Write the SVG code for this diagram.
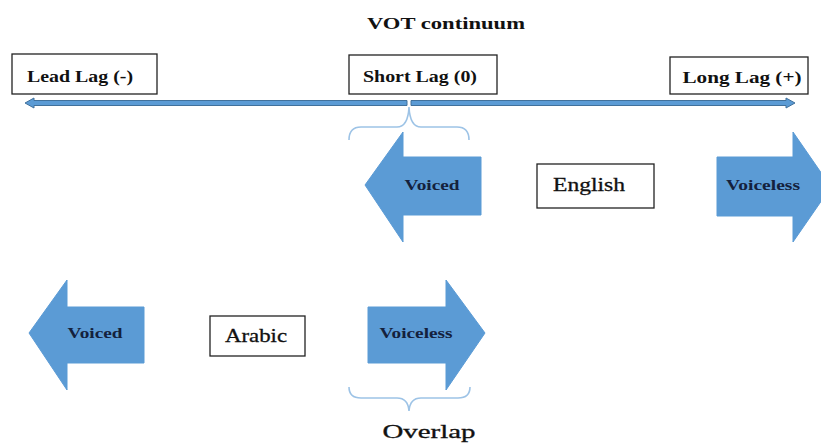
<svg xmlns="http://www.w3.org/2000/svg" width="821" height="443" viewBox="0 0 821 443">
<style>
text{font-family:'Liberation Serif','DejaVu Serif','Times New Roman',serif;}
.t{font-weight:bold;font-size:17px;fill:#111;}
.lbl{font-weight:bold;font-size:16.5px;fill:#111;}
.lang{font-size:19px;fill:#111;stroke:#111;stroke-width:0.3;}
.arw{font-weight:bold;font-size:14px;fill:#14213d;}
.box{fill:#fff;stroke:#222;stroke-width:1.3;}
.blk{fill:#5B9BD5;stroke:#5B9BD5;stroke-width:1;}
.axis{fill:#5B9BD5;stroke:#41719C;stroke-width:1;}
.brace{fill:none;stroke:#9DC3E6;stroke-width:1.6;}
</style>
<rect width="821" height="443" fill="#fff"/>
<text class="t" x="446" y="29" text-anchor="middle" textLength="158" lengthAdjust="spacingAndGlyphs">VOT continuum</text>
<g id="connectors">
<polygon class="axis" points="407,100.5 34,100.5 34,98 25,103 34,108 34,105.5 407,105.5"/>
<polygon class="axis" points="411,100.5 786,100.5 786,98 795,103 786,108 786,105.5 411,105.5"/>
<path class="brace" d="M349,140 Q349,127 361,127 L397,127 Q408,127 409,107 Q410,127 421,127 L457,127 Q469,127 469,140"/>
<path class="brace" d="M349,387 Q349,398 361,398 L397,398 Q408,398 409,411 Q410,398 421,398 L458,398 Q470,398 470,387"/>
</g>
<g id="lead-lag">
<rect class="box" x="12" y="54" width="145" height="40"/>
<text class="lbl" x="80" y="82" text-anchor="middle" textLength="106" lengthAdjust="spacingAndGlyphs">Lead Lag (-)</text>
</g>
<g id="short-lag">
<rect class="box" x="349" y="55" width="148" height="39"/>
<text class="lbl" x="420" y="82" text-anchor="middle" textLength="114" lengthAdjust="spacingAndGlyphs">Short Lag (0)</text>
</g>
<g id="long-lag">
<rect class="box" x="670" y="57" width="138" height="37"/>
<text class="lbl" x="742" y="83" text-anchor="middle" textLength="119" lengthAdjust="spacingAndGlyphs">Long Lag (+)</text>
</g>
<g id="english-voiced">
<polygon class="blk" points="365,185 403,132 403,157 481,157 481,215 403,215 403,242"/>
<text class="arw" x="432" y="190" text-anchor="middle" textLength="55" lengthAdjust="spacingAndGlyphs">Voiced</text>
</g>
<g id="english">
<rect class="box" x="537" y="164" width="117" height="44"/>
<text class="lang" x="589" y="191" text-anchor="middle" textLength="72" lengthAdjust="spacingAndGlyphs">English</text>
</g>
<g id="english-voiceless">
<polygon class="blk" points="717,157 793,157 793,132 831,187 793,242 793,216 717,216"/>
<text class="arw" x="763" y="190" text-anchor="middle" textLength="74" lengthAdjust="spacingAndGlyphs">Voiceless</text>
</g>
<g id="arabic-voiced">
<polygon class="blk" points="29,333 67,280 67,307 144,307 144,363 67,363 67,390"/>
<text class="arw" x="95" y="338" text-anchor="middle" textLength="55" lengthAdjust="spacingAndGlyphs">Voiced</text>
</g>
<g id="arabic">
<rect class="box" x="210" y="316" width="95" height="40"/>
<text class="lang" x="256" y="342" text-anchor="middle" textLength="62" lengthAdjust="spacingAndGlyphs">Arabic</text>
</g>
<g id="arabic-voiceless">
<polygon class="blk" points="368,307 446,307 446,280 485,333 446,390 446,363 368,363"/>
<text class="arw" x="416" y="338" text-anchor="middle" textLength="73" lengthAdjust="spacingAndGlyphs">Voiceless</text>
</g>
<g id="overlap">
<text class="lang" x="429" y="438" text-anchor="middle" textLength="93" lengthAdjust="spacingAndGlyphs" style="font-size:18px">Overlap</text>
</g>
</svg>
